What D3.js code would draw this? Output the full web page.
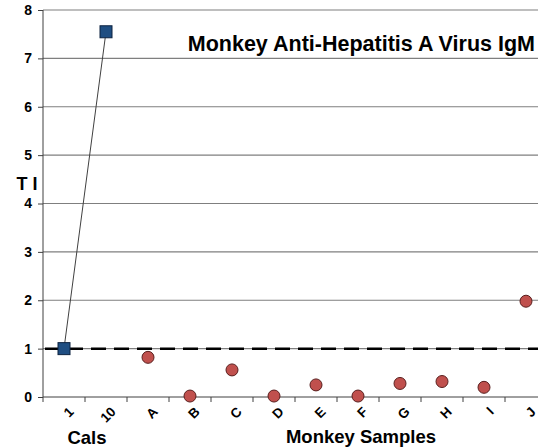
<!DOCTYPE html>
<html><head><meta charset="utf-8">
<script src="https://cdn.jsdelivr.net/npm/d3@7"></script>
<style>body{margin:0;background:#fff}svg{display:block}text{font-family:"Liberation Sans",Arial,sans-serif;font-weight:bold}</style>
</head><body><svg id="c" width="538" height="448"></svg>
<script>
const categories = ["1","10","A","B","C","D","E","F","G","H","I","J"];
const calCategories = ["1","10"];
const calValues = [1.0, 7.55];
const sampleCategories = ["A","B","C","D","E","F","G","H","I","J"];
const sampleValues = [0.82, 0.02, 0.56, 0.02, 0.25, 0.02, 0.28, 0.32, 0.2, 1.98];
const yTicks = [0,1,2,3,4,5,6,7,8];
const cutoff = 1;
const title = "Monkey Anti-Hepatitis A Virus IgM";

const svg = d3.select("#c");
const x = d3.scaleBand().domain(categories).range([43, 547]);
const y = d3.scaleLinear().domain([0, 8]).range([397, 10]);
const cx = d => x(d) + x.bandwidth()/2;

// gridlines
svg.append("g").selectAll("line").data(yTicks.slice(1)).join("line")
  .attr("x1", 43).attr("x2", 538).attr("y1", d=>y(d)).attr("y2", d=>y(d))
  .attr("stroke", "#7f7f7f").attr("stroke-width", 1.2);

// y axis
const ya = svg.append("g").attr("transform","translate(43,0)")
  .call(d3.axisLeft(y).tickValues(yTicks).tickSize(5).tickPadding(6).tickFormat(d3.format("d")));
ya.select(".domain").attr("stroke","#404040").attr("d","M0,10V397");
ya.selectAll(".tick line").attr("stroke","#404040");
ya.selectAll("text").attr("font-size", 14).attr("fill","#000").style("font-family",'"Liberation Sans",Arial,sans-serif').style("font-weight","bold");

// x axis
const xa = svg.append("g").attr("transform","translate(0,397)")
  .call(d3.axisBottom(x).tickSize(0).tickFormat(""));
xa.select(".domain").attr("stroke","#404040").attr("d","M43,0H538");
svg.append("g").selectAll("line").data(categories).join("line")
  .attr("x1", d=>x(d)).attr("x2", d=>x(d)).attr("y1",397).attr("y2",402)
  .attr("stroke","#404040");
svg.append("g").selectAll("text").data(categories).join("text")
  .attr("transform", d=>`translate(${cx(d)+4},${406}) rotate(-45)`)
  .attr("text-anchor","end").attr("dy","0.7em")
  .attr("font-size", 13.5).text(d=>d);

// cutoff dashed line
svg.append("line").attr("x1", 45).attr("x2", 538).attr("y1", y(cutoff)).attr("y2", y(cutoff))
  .attr("stroke","#000").attr("stroke-width",2.5).attr("stroke-dasharray","15,8");

// calibrator line + squares
svg.append("path").datum(calCategories.map((c,i)=>[cx(c), y(calValues[i])]))
  .attr("d", d3.line()).attr("fill","none").attr("stroke","#404040").attr("stroke-width",1);
svg.append("g").selectAll("rect").data(calCategories).join("rect")
  .attr("x", (d)=>cx(d)-6).attr("y",(d,i)=>y(calValues[i])-6).attr("width",12).attr("height",12)
  .attr("fill","#1f4e82").attr("stroke","#0d2340").attr("stroke-width",1);

// samples
svg.append("g").selectAll("circle").data(sampleCategories).join("circle")
  .attr("cx", d=>cx(d)).attr("cy",(d,i)=>y(sampleValues[i])).attr("r",6)
  .attr("fill","#c0504d").attr("stroke","#5a1f1e").attr("stroke-width",1);

// labels
svg.append("text").attr("x",27).attr("y",190).attr("text-anchor","middle").attr("font-size",18).text("T I");
svg.append("text").attr("x",87).attr("y",444).attr("text-anchor","middle").attr("font-size",18.5).text("Cals");
svg.append("text").attr("x",361).attr("y",443).attr("text-anchor","middle").attr("font-size",18.5).text("Monkey Samples");
svg.append("text").attr("x",535).attr("y",51).attr("text-anchor","end").attr("font-size",21.5).text(title);
</script></body></html>
